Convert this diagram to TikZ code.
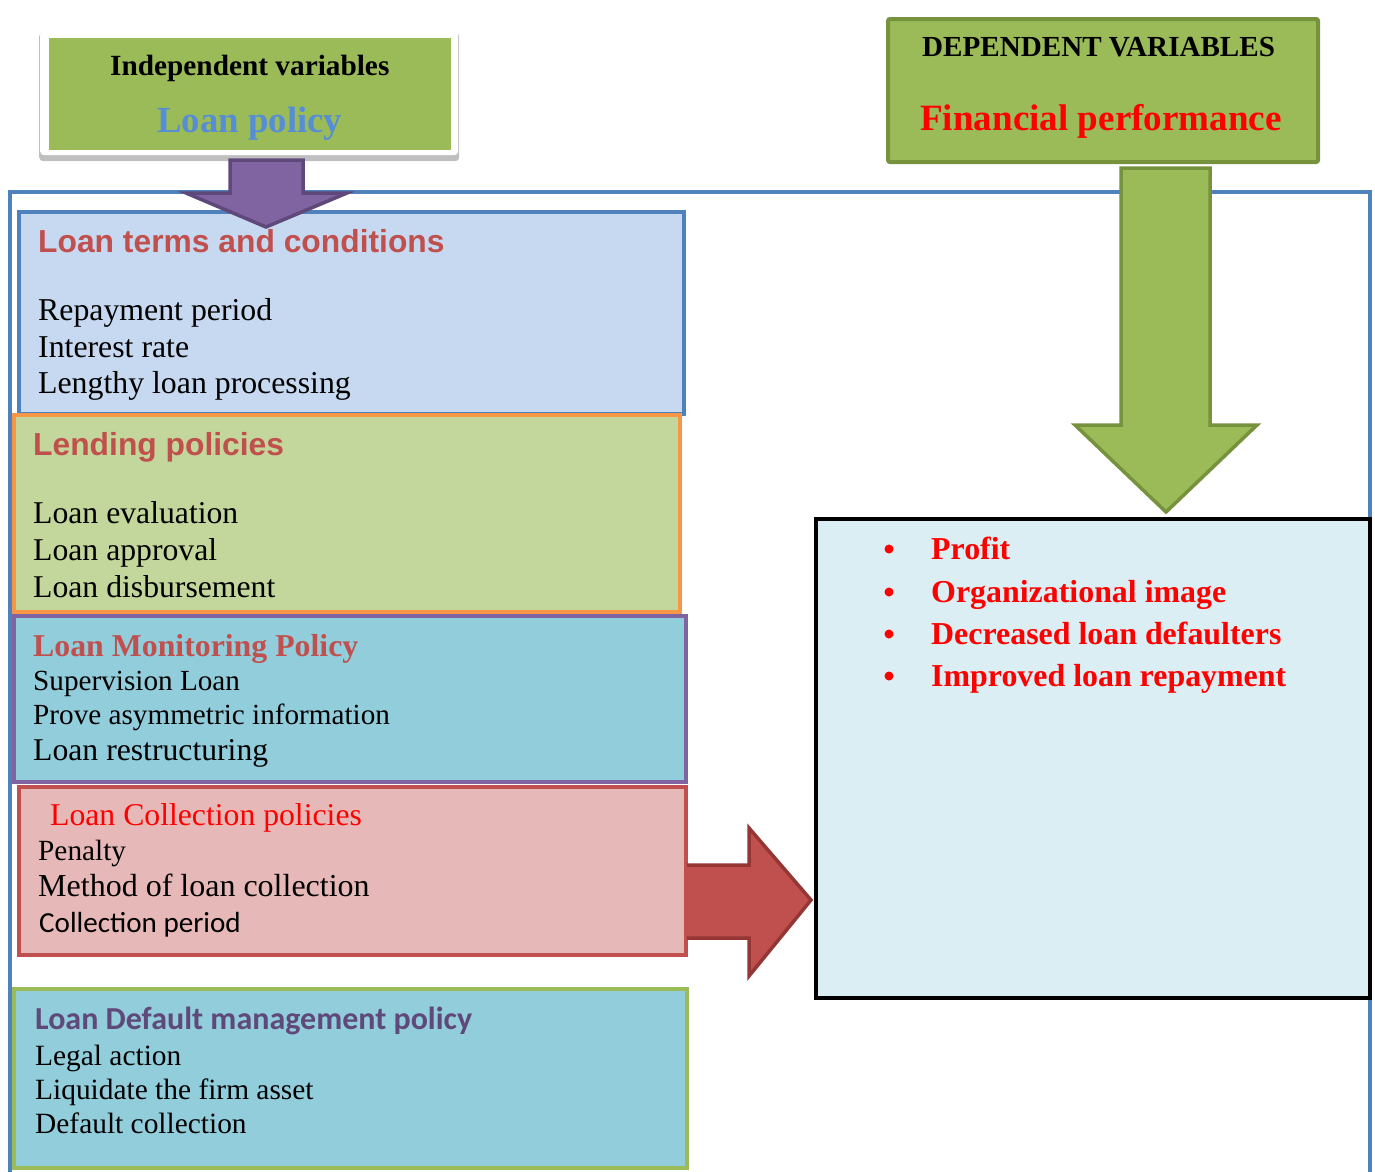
\documentclass[tikz,border=0pt]{standalone}
\usepackage{fontspec}
\setmainfont{Liberation Serif}
\newfontfamily\arialf{Liberation Sans}
\newfontfamily\calibrif{Carlito}
\usetikzlibrary{shadows}
\definecolor{lgreen}{HTML}{9BBB59}
\definecolor{dgreen}{HTML}{76923C}
\definecolor{frameblue}{HTML}{4F81BD}
\definecolor{lpblue}{HTML}{558ED5}
\definecolor{titlered}{HTML}{C0504D}
\definecolor{purplef}{HTML}{8064A2}
\definecolor{purpled}{HTML}{5F497A}
\definecolor{redarrow}{HTML}{C0504D}
\definecolor{redarrowd}{HTML}{943634}
\definecolor{fillone}{HTML}{C6D9F0}
\definecolor{filltwo}{HTML}{C3D69B}
\definecolor{orangeb}{HTML}{F79646}
\definecolor{fillthree}{HTML}{92CDDC}
\definecolor{fillfour}{HTML}{E6B8B7}
\definecolor{fillright}{HTML}{DBEEF3}
\definecolor{pureRed}{HTML}{FF0000}
\newcommand{\fsz}[1]{\fontsize{#1}{#1}\selectfont}
\begin{document}
\begin{tikzpicture}[x=1pt,y=-1pt,
  boxst/.style={rectangle, line width=4pt, inner sep=0pt, anchor=north west},
  txt/.style={anchor=base west, inner sep=0pt},
  blockarrow/.style={line width=3.5pt, line join=miter}]
\useasboundingbox (0,0) rectangle (1375,1171);
% outer frame
\draw[frameblue, line width=3.5pt] (10,1175) -- (10,192) -- (1370,192) -- (1370,1175);
% independent variables box
\node[rectangle, fill=black!25, rounded corners=4pt, inner sep=0pt, minimum width=420pt, minimum height=129pt, anchor=north west] (indsh) at (39,32) {};
\node[rectangle, fill=white, rounded corners=4pt, inner sep=0pt, minimum width=418pt, minimum height=125pt, anchor=north west] (indw) at (40,30) {};
\node[rectangle, fill=lgreen, inner sep=0pt, minimum width=402pt, minimum height=112pt, anchor=north west] (ind) at (49,38) {};
\node[txt, font=\bfseries\fsz{29.3}] (indt) at (110,75) {Independent variables};
\node[txt, font=\bfseries\fsz{36.8}, text=lpblue] (lp) at (157,132) {Loan policy};
% dependent variables box
\node[boxst, draw=dgreen, fill=lgreen, rounded corners=2pt, minimum width=430pt, minimum height=143pt] (dep) at (886,17) {};
\node[txt, font=\bfseries\fsz{29.1}] (dept) at (922,56) {DEPENDENT VARIABLES};
\node[txt, font=\bfseries\fsz{37.1}, text=pureRed] (fp) at (920,130) {Financial performance};
% left boxes
\node[boxst, draw=frameblue, fill=fillone, minimum width=665pt, minimum height=202pt] (b1) at (17,210) {};
\node[boxst, draw=orangeb, fill=filltwo, minimum width=666pt, minimum height=197pt] (b2) at (12,413) {};
\node[boxst, draw=purplef, fill=fillthree, minimum width=672pt, minimum height=166pt] (b3) at (12,614) {};
\node[boxst, draw=titlered, fill=fillfour, minimum width=667pt, minimum height=168pt] (b4) at (17,785) {};
\node[boxst, draw=lgreen, fill=fillthree, minimum width=673pt, minimum height=179pt] (b5) at (12,987) {};
% right box
\node[boxst, draw=black, fill=fillright, minimum width=554pt, minimum height=479pt] (rb) at (814,517) {};
% purple arrow
\filldraw[blockarrow, fill=purplef, draw=purpled] (230,160) -- (303,160) -- (303,193) -- (347,193) -- (266,227) -- (186,193) -- (230,193) -- cycle;
% green arrow
\filldraw[blockarrow, fill=lgreen, draw=dgreen] (1121,168) -- (1210,168) -- (1210,425) -- (1257,425) -- (1166,512) -- (1075,425) -- (1121,425) -- cycle;
% red arrow
\filldraw[blockarrow, fill=redarrow, draw=redarrowd] (687,865) -- (749,865) -- (749,828) -- (811,900) -- (749,976) -- (749,938) -- (687,938);
% box 1 text
\node[txt, font=\arialf\bfseries\fsz{31.8}, text=titlered] (t1) at (38,252) {Loan terms and conditions};
\node[txt, font=\fsz{31.8}] (t1a) at (38,320) {Repayment period};
\node[txt, font=\fsz{31.8}] (t1b) at (38,357) {Interest rate};
\node[txt, font=\fsz{31.8}] (t1c) at (38,393) {Lengthy loan processing};
% box 2 text
\node[txt, font=\arialf\bfseries\fsz{31.8}, text=titlered] (t2) at (33,455) {Lending policies};
\node[txt, font=\fsz{31.7}] (t2a) at (33,523) {Loan evaluation};
\node[txt, font=\fsz{31.7}] (t2b) at (33,560) {Loan approval};
\node[txt, font=\fsz{31.7}] (t2c) at (33,597) {Loan disbursement};
% box 3 text
\node[txt, font=\bfseries\fsz{31.8}, text=titlered] (t3) at (33,656) {Loan Monitoring Policy};
\node[txt, font=\fsz{29.2}] (t3a) at (33,690) {Supervision Loan};
\node[txt, font=\fsz{29.2}] (t3b) at (33,724) {Prove asymmetric information};
\node[txt, font=\fsz{31.7}] (t3c) at (33,760) {Loan restructuring};
% box 4 text
\node[txt, font=\fsz{31.7}, text=pureRed] (t4) at (50,825) {Loan Collection policies};
\node[txt, font=\fsz{29.3}] (t4a) at (38,860) {Penalty};
\node[txt, font=\fsz{32}] (t4b) at (38,896) {Method of loan collection};
\node[txt, font=\calibrif\fsz{29.1}] (t4c) at (39,932) {Collection period};
% box 5 text
\node[txt, font=\calibrif\bfseries\fsz{32}, text=purpled] (t5) at (35,1029) {Loan Default management policy};
\node[txt, font=\fsz{29.4}] (t5a) at (35,1065) {Legal action};
\node[txt, font=\fsz{29.4}] (t5b) at (35,1099) {Liquidate the firm asset};
\node[txt, font=\fsz{29.4}] (t5c) at (35,1133) {Default collection};
% bullets
\foreach \yy/\tt/\nm in {559/Profit/pa, 602/Organizational image/pb, 644/Decreased loan defaulters/pc, 686/Improved loan repayment/pd} {
  \fill[pureRed] (889,\yy-10) circle (4.5pt);
  \node[txt, font=\bfseries\fsz{31.9}, text=pureRed] (\nm) at (931,\yy) {\tt};
}
\end{tikzpicture}
\end{document}
